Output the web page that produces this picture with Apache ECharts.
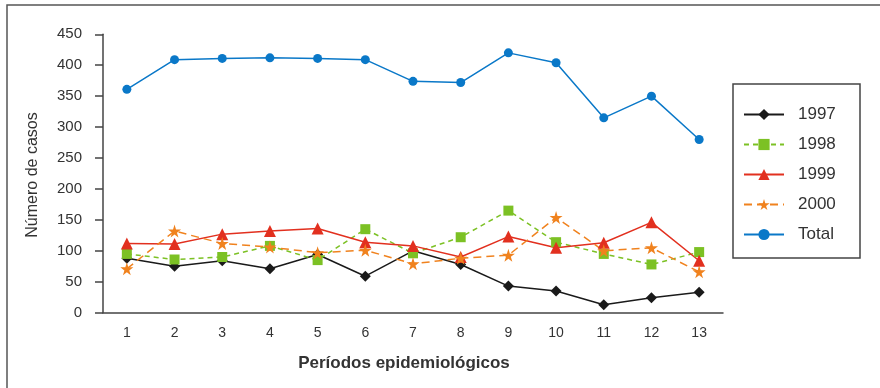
<!DOCTYPE html>
<html>
<head>
<meta charset="utf-8">
<script src="https://cdn.jsdelivr.net/npm/echarts@6/dist/echarts.min.js"></script>
<style>html,body{margin:0;padding:0;background:#fff;}#c{width:880px;height:388px;}</style>
</head>
<body>
<div id="c"></div>
<script>
const categories = ['1','2','3','4','5','6','7','8','9','10','11','12','13'];
const yTicks = [0, 450, 50];
const s1997 = [88, 75, 84, 71, 94, 59, 100, 78, 43, 35, 13, 24, 33];
const s1998 = [95, 86, 90, 108, 85, 135, 96, 122, 165, 114, 95, 78, 98];
const s1999 = [112, 111, 127, 132, 136, 114, 108, 90, 123, 105, 113, 146, 84];
const s2000 = [71, 132, 112, 106, 97, 101, 79, 88, 93, 154, 100, 105, 66];
const sTotal = [361, 409, 411, 412, 411, 409, 374, 372, 420, 404, 315, 350, 280];
const seriesNames = ['1997', '1998', '1999', '2000', 'Total'];

const star = 'path://M50,0 L61,35 L98,35 L68,57 L79,91 L50,70 L21,91 L32,57 L2,35 L39,35 Z';
const chart = echarts.init(document.getElementById('c'), null, {renderer: 'canvas'});
const font = 'Liberation Sans, Arial, sans-serif';
function mk(name, data, color, symbol, size, type, dash) {
  return {
    name, type: 'line', data, symbol, symbolSize: size,
    itemStyle: {color},
    lineStyle: {color, width: 1.5, type: dash || 'solid'},
    emphasis: {disabled: true},
    animation: false
  };
}
chart.setOption({
  backgroundColor: '#fff',
  animation: false,
  textStyle: {fontFamily: font},
  grid: {left: 103, right: 157, top: 34.3, bottom: 75.3},
  xAxis: {
    type: 'category', data: categories, boundaryGap: true,
    axisLine: {lineStyle: {color: '#444', width: 1.5}},
    axisTick: {length: 7, lineStyle: {color: '#444', width: 1.5}},
    axisLabel: {margin: 13, fontSize: 14, color: '#333', fontFamily: font},
    splitLine: {show: false}
  },
  yAxis: {
    type: 'value', min: yTicks[0], max: yTicks[1], interval: yTicks[2],
    axisLine: {show: true, lineStyle: {color: '#444', width: 1.5}},
    axisTick: {show: true, length: 8, lineStyle: {color: '#444', width: 1.5}},
    axisLabel: {margin: 21, fontSize: 15, color: '#333', fontFamily: font},
    splitLine: {show: false}
  },
  legend: {
    orient: 'vertical', left: 743, top: 106, padding: 0,
    itemWidth: 40, itemHeight: 14, itemGap: 13,
    data: seriesNames,
    textStyle: {fontSize: 17, color: '#333', lineHeight: 14, padding: [0, 0, 0, 9], fontFamily: font},
    selectedMode: false
  },
  graphic: [
    {type: 'rect', shape: {x: 7, y: 5, width: 900, height: 400}, style: {fill: 'none', stroke: '#555', lineWidth: 1.5}, silent: true},
    {type: 'rect', shape: {x: 733, y: 84, width: 127, height: 174}, style: {fill: 'none', stroke: '#444', lineWidth: 1.5}, silent: true},
    {type: 'text', x: 33, y: 175, rotation: Math.PI / 2,
     style: {text: 'Número de casos', font: '16px Liberation Sans, Arial, sans-serif', fill: '#333', textAlign: 'center', textVerticalAlign: 'middle'}},
    {type: 'text', x: 404, y: 363,
     style: {text: 'Períodos epidemiológicos', font: 'bold 17px Liberation Sans, Arial, sans-serif', fill: '#333', textAlign: 'center', textVerticalAlign: 'middle'}}
  ],
  series: [
    mk('1997', s1997, '#1a1a1a', 'diamond', 11),
    mk('1998', s1998, '#7cc124', 'rect', 10, 'line', [5, 4]),
    mk('1999', s1999, '#e2301f', 'triangle', 12),
    mk('2000', s2000, '#f0821e', star, 13, 'line', [8, 5]),
    mk('Total', sTotal, '#0a78c8', 'circle', 9)
  ]
});
</script>
</body>
</html>
